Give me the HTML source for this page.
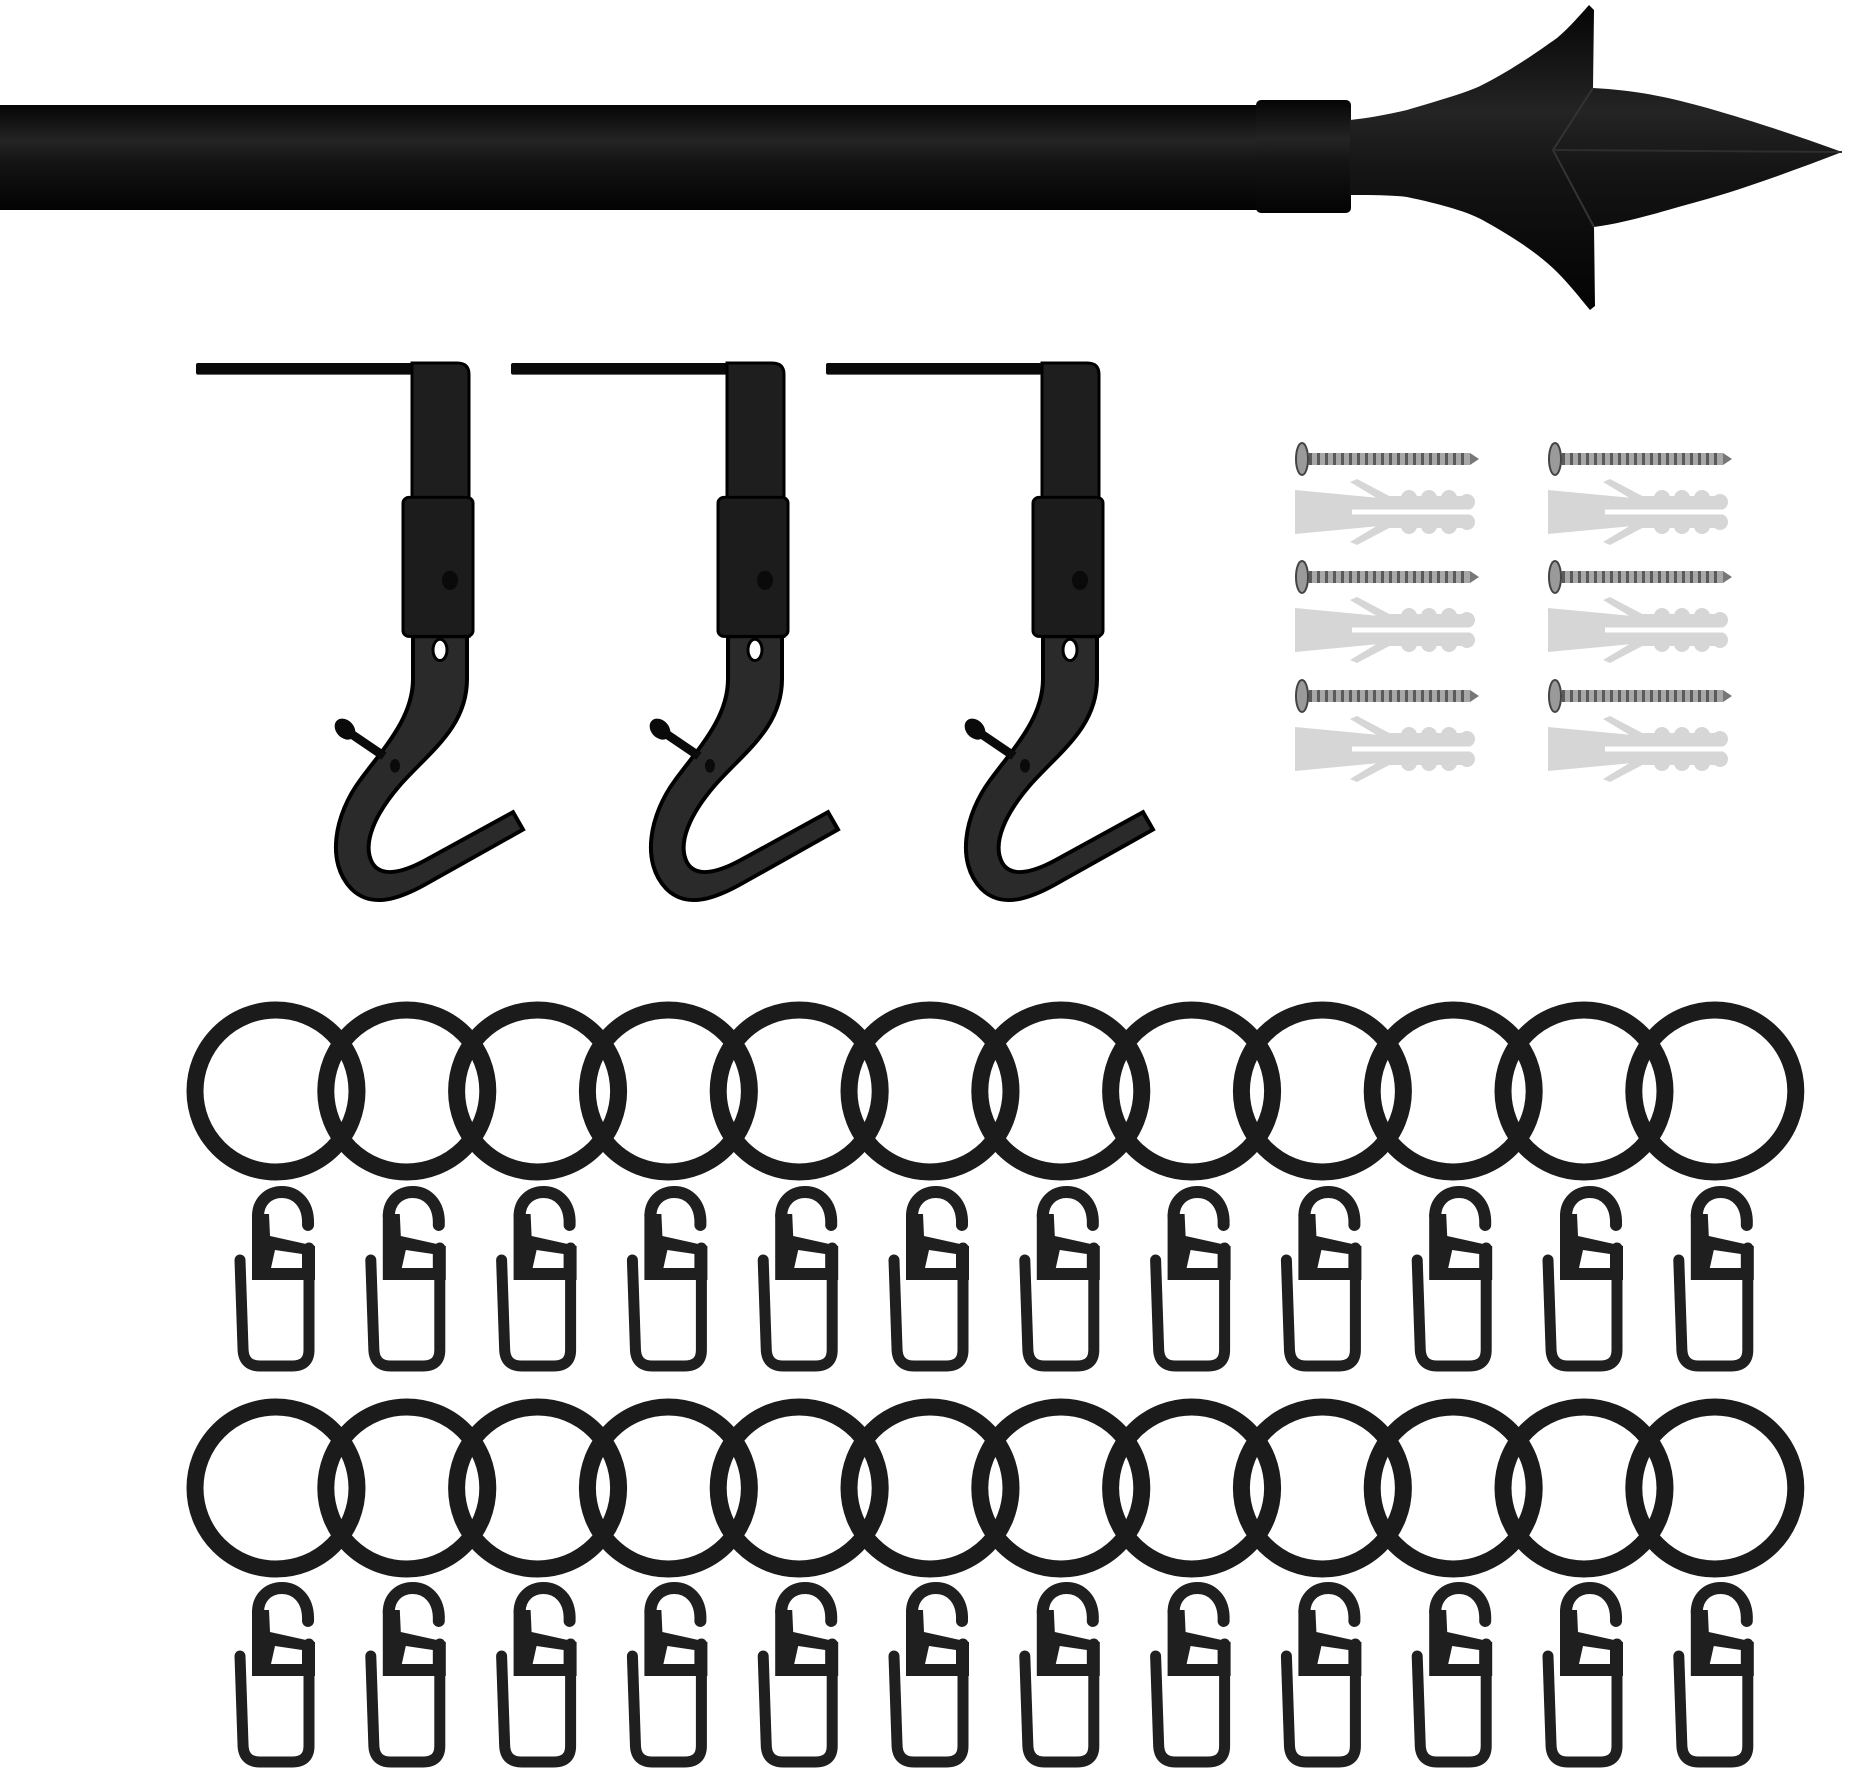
<!DOCTYPE html>
<html><head><meta charset="utf-8"><style>
html,body{margin:0;padding:0;background:#fff;}
svg{display:block;}
</style></head><body>
<svg width="1864" height="1768" viewBox="0 0 1864 1768" xmlns="http://www.w3.org/2000/svg">
<defs>
<linearGradient id="rodg" x1="0" y1="0" x2="0" y2="1">
<stop offset="0" stop-color="#050505"/><stop offset="0.35" stop-color="#242424"/><stop offset="0.55" stop-color="#141414"/><stop offset="1" stop-color="#030303"/>
</linearGradient>
<g id="ring"><circle cx="0" cy="0" r="81" fill="none" stroke="#1b1b1b" stroke-width="17"/></g>
<g id="clip">
<path d="M32,37 C33,14 19,4 6,4 C-8,4 -18,14 -18,28" fill="none" stroke="#1f1f1f" stroke-width="12" stroke-linecap="round"/>
<polygon points="-24,26 -7,26 -6,48 39,58 39,92 -24,92" fill="#1f1f1f"/>
<polygon points="-1,62 26,66 26,80 -5,80" fill="#fff"/>
<path d="M33,60 L33,162 Q33,178 16,178 L-16,178 Q-33,178 -33,160 L-36,72" fill="none" stroke="#1f1f1f" stroke-width="11" stroke-linecap="round" stroke-linejoin="round"/>
</g>
<g id="bracket0">
<rect x="196" y="363" width="250" height="12" rx="2" fill="#0a0a0a"/>
<path d="M412,363 L457,363 Q469,363 469,375 L469,646 L412,646 Z" fill="#1e1e1e" stroke="#000" stroke-width="3"/>
<path d="M413,646 L413,690 C413,730 385,760 360,795 C335,830 325,880 352,908 C372,928 400,918 430,900 L523,846 L513,828 L425,878 C400,892 380,895 372,880 C362,860 375,830 400,800 C430,765 467,740 467,690 L467,646 Z" fill="#2a2a2a" stroke="#000" stroke-width="4"/>
<rect x="403" y="502" width="70" height="144" rx="6" fill="#1c1c1c" stroke="#000" stroke-width="3"/>
<ellipse cx="450" cy="588" rx="8" ry="10" fill="#0a0a0a"/>
<ellipse cx="440" cy="660" rx="7" ry="11" fill="#fff" stroke="#000" stroke-width="3"/>
<path d="M347,744 L384,770" stroke="#0a0a0a" stroke-width="9"/>
<ellipse cx="345" cy="742" rx="9" ry="12" transform="rotate(-40 345 742)" fill="#0a0a0a"/>
<ellipse cx="395" cy="780" rx="5" ry="7" fill="#0a0a0a"/>
</g>
<g id="bracket"><use href="#bracket0" transform="translate(0,363) scale(1,0.966) translate(0,-363)"/></g>
<g id="screw">
<rect x="12" y="-6" width="163" height="12" fill="#a8a8a8"/>
<line x1="14" y1="0" x2="172" y2="0" stroke="#5a5a5a" stroke-width="12" stroke-dasharray="3 5"/>
<polygon points="175,-6 184,0 175,6" fill="#777"/>
<ellipse cx="7" cy="0" rx="6" ry="16" fill="#9a9a9a" stroke="#444" stroke-width="2"/>
</g>
<g id="anchor" fill="#d6d6d6">
<polygon points="0,-22 95,-13 95,13 0,22"/>
<rect x="90" y="-16" width="82" height="32" rx="6"/>
<circle cx="114" cy="-14" r="8"/><circle cx="134" cy="-14" r="8"/><circle cx="154" cy="-14" r="8"/><circle cx="172" cy="-10" r="8"/>
<circle cx="114" cy="14" r="8"/><circle cx="134" cy="14" r="8"/><circle cx="154" cy="14" r="8"/><circle cx="172" cy="10" r="8"/>
<polygon points="55,-30 62,-33 100,-13 90,-9"/>
<polygon points="55,30 62,33 100,13 90,9"/>
<rect x="57" y="-2.5" width="105" height="5" fill="#fff"/>
<rect x="162" y="-2.5" width="20" height="5" fill="#fff"/>
</g>
</defs>

<!-- rod -->
<rect x="0" y="105" width="1260" height="105" fill="url(#rodg)"/>
<rect x="1256" y="100" width="95" height="113" rx="5" fill="url(#rodg)"/>
<path d="M1350,120 C1370,118 1390,114 1407,110 C1440,100 1470,92 1486,83 C1515,68 1540,50 1557,38 C1570,27 1580,15 1589,5 L1594,10 L1593,88 C1630,90 1660,95 1700,106 C1740,117 1790,133 1842,152 C1790,172 1740,190 1700,201 C1660,212 1630,222 1594,227 L1595,306 L1590,310 C1580,298 1570,285 1557,272 C1540,255 1515,238 1486,222 C1470,212 1440,204 1407,197 C1390,195 1370,195 1350,195 Z" fill="url(#rodg)"/>
<path d="M1593,88 L1553,150 L1594,227" fill="none" stroke="#333" stroke-width="2"/>
<path d="M1553,150 L1842,152" stroke="#2e2e2e" stroke-width="2"/>

<!-- brackets -->
<use href="#bracket"/>
<use href="#bracket" transform="translate(315,0)"/>
<use href="#bracket" transform="translate(630,0)"/>

<!-- screws & anchors -->
<use href="#screw" transform="translate(1295,459)"/>
<use href="#anchor" transform="translate(1295,512)"/>
<use href="#screw" transform="translate(1295,577)"/>
<use href="#anchor" transform="translate(1295,630)"/>
<use href="#screw" transform="translate(1295,696)"/>
<use href="#anchor" transform="translate(1295,749)"/>
<use href="#screw" transform="translate(1548,459)"/>
<use href="#anchor" transform="translate(1548,512)"/>
<use href="#screw" transform="translate(1548,577)"/>
<use href="#anchor" transform="translate(1548,630)"/>
<use href="#screw" transform="translate(1548,696)"/>
<use href="#anchor" transform="translate(1548,749)"/>

<!-- rings row 1 -->
<use href="#ring" transform="translate(276,1091)"/>
<use href="#ring" transform="translate(406.8,1091)"/>
<use href="#ring" transform="translate(537.6,1091)"/>
<use href="#ring" transform="translate(668.4,1091)"/>
<use href="#ring" transform="translate(799.2,1091)"/>
<use href="#ring" transform="translate(930,1091)"/>
<use href="#ring" transform="translate(1060.8,1091)"/>
<use href="#ring" transform="translate(1191.6,1091)"/>
<use href="#ring" transform="translate(1322.4,1091)"/>
<use href="#ring" transform="translate(1453.2,1091)"/>
<use href="#ring" transform="translate(1584,1091)"/>
<use href="#ring" transform="translate(1714.8,1091)"/>
<!-- clips row 1 -->
<use href="#clip" transform="translate(276,1188)"/>
<use href="#clip" transform="translate(406.8,1188)"/>
<use href="#clip" transform="translate(537.6,1188)"/>
<use href="#clip" transform="translate(668.4,1188)"/>
<use href="#clip" transform="translate(799.2,1188)"/>
<use href="#clip" transform="translate(930,1188)"/>
<use href="#clip" transform="translate(1060.8,1188)"/>
<use href="#clip" transform="translate(1191.6,1188)"/>
<use href="#clip" transform="translate(1322.4,1188)"/>
<use href="#clip" transform="translate(1453.2,1188)"/>
<use href="#clip" transform="translate(1584,1188)"/>
<use href="#clip" transform="translate(1714.8,1188)"/>
<!-- rings row 2 -->
<use href="#ring" transform="translate(276,1488)"/>
<use href="#ring" transform="translate(406.8,1488)"/>
<use href="#ring" transform="translate(537.6,1488)"/>
<use href="#ring" transform="translate(668.4,1488)"/>
<use href="#ring" transform="translate(799.2,1488)"/>
<use href="#ring" transform="translate(930,1488)"/>
<use href="#ring" transform="translate(1060.8,1488)"/>
<use href="#ring" transform="translate(1191.6,1488)"/>
<use href="#ring" transform="translate(1322.4,1488)"/>
<use href="#ring" transform="translate(1453.2,1488)"/>
<use href="#ring" transform="translate(1584,1488)"/>
<use href="#ring" transform="translate(1714.8,1488)"/>
<!-- clips row 2 -->
<use href="#clip" transform="translate(276,1584)"/>
<use href="#clip" transform="translate(406.8,1584)"/>
<use href="#clip" transform="translate(537.6,1584)"/>
<use href="#clip" transform="translate(668.4,1584)"/>
<use href="#clip" transform="translate(799.2,1584)"/>
<use href="#clip" transform="translate(930,1584)"/>
<use href="#clip" transform="translate(1060.8,1584)"/>
<use href="#clip" transform="translate(1191.6,1584)"/>
<use href="#clip" transform="translate(1322.4,1584)"/>
<use href="#clip" transform="translate(1453.2,1584)"/>
<use href="#clip" transform="translate(1584,1584)"/>
<use href="#clip" transform="translate(1714.8,1584)"/>
</svg>
</body></html>
